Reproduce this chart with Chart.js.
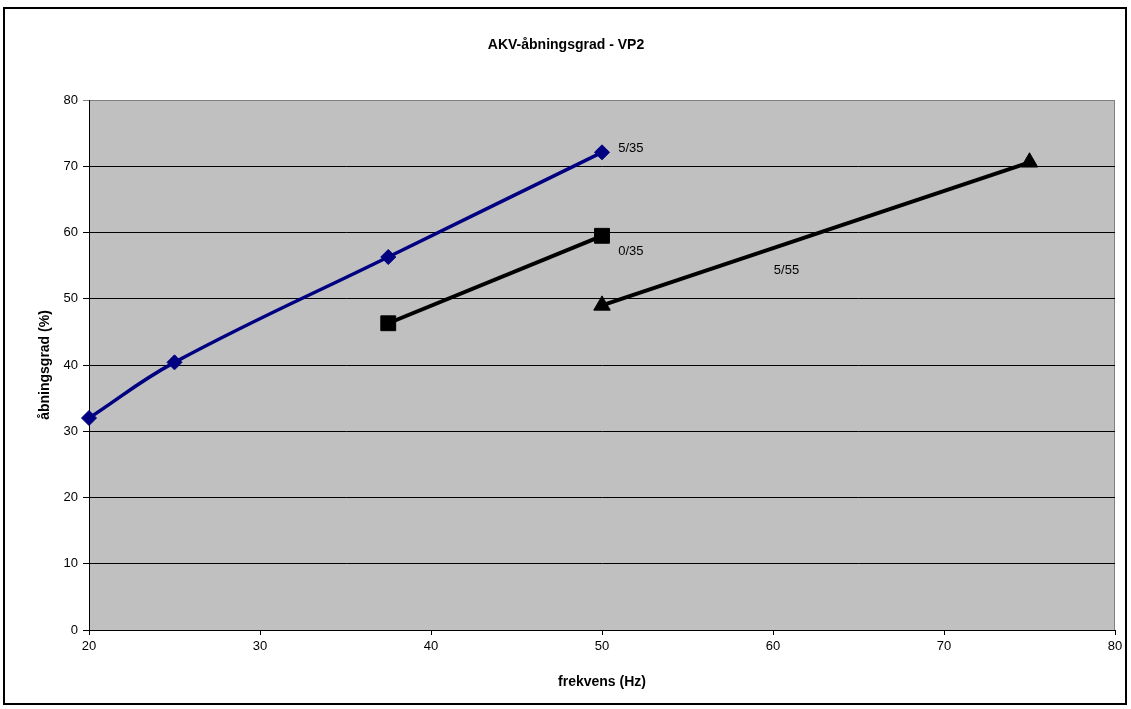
<!DOCTYPE html>
<html>
<head>
<meta charset="utf-8">
<title>AKV-åbningsgrad - VP2</title>
<script src="https://cdn.jsdelivr.net/npm/chart.js@4.4.1/dist/chart.umd.min.js"></script>
<style>
  html, body { margin: 0; padding: 0; background: #ffffff; }
  #wrap { position: relative; width: 1131px; height: 709px; }
</style>
</head>
<body>
<div id="wrap"><canvas id="c" width="1131" height="709"></canvas></div>
<script>
// Frequency (Hz) and valve opening (%) for each operating point
const freq_5_35 = [20, 25, 37.5, 50];
const open_5_35 = [32, 40.4, 56.3, 72.1];

const freq_0_35 = [37.5, 50];
const open_0_35 = [46.3, 59.5];

const freq_5_55 = [50, 75];
const open_5_55 = [49, 70.6];

const seriesNames = ['5/35', '0/35', '5/55'];

const xTicks = [20, 30, 40, 50, 60, 70, 80];
const yTicks = [0, 10, 20, 30, 40, 50, 60, 70, 80];

const FONT = '"Liberation Sans", Arial, sans-serif';

function pts(xs, ys) { return xs.map((x, i) => ({ x: x, y: ys[i] })); }

// Text placement of the series names (in axis units)
const nameAnchors = [
  { x: 50.95, y: 72.7 },
  { x: 50.95, y: 57.2 },
  { x: 60.05, y: 54.3 }
];

const frame = {
  id: 'frame',
  beforeDraw(chart) {
    const { ctx, chartArea: a } = chart;
    ctx.save();
    ctx.fillStyle = '#ffffff';
    ctx.fillRect(0, 0, chart.width, chart.height);
    ctx.fillStyle = '#c0c0c0';
    ctx.fillRect(a.left, a.top, a.right - a.left, a.bottom - a.top);
    ctx.strokeStyle = '#808080';
    ctx.lineWidth = 1;
    ctx.beginPath();
    ctx.moveTo(a.left, a.top + 0.5);
    ctx.lineTo(a.right - 0.5, a.top + 0.5);
    ctx.lineTo(a.right - 0.5, a.bottom);
    ctx.stroke();
    ctx.restore();
  },
  afterDraw(chart) {
    const { ctx, chartArea: a, scales } = chart;
    ctx.save();
    // outer border
    ctx.strokeStyle = '#000000';
    ctx.lineWidth = 2;
    ctx.strokeRect(4, 8, 1122, 696);
    // title
    ctx.fillStyle = '#000000';
    ctx.textAlign = 'center';
    ctx.textBaseline = 'middle';
    ctx.font = 'bold 14px ' + FONT;
    ctx.fillText('AKV-åbningsgrad - VP2', 566, 45);
    // axis titles
    ctx.font = 'bold 14px ' + FONT;
    ctx.fillText('frekvens (Hz)', (a.left + a.right) / 2, 682);
    ctx.save();
    ctx.translate(45, (a.top + a.bottom) / 2);
    ctx.rotate(-Math.PI / 2);
    ctx.fillText('åbningsgrad (%)', 0, 0);
    ctx.restore();
    // series names
    ctx.font = '13px ' + FONT;
    ctx.textAlign = 'left';
    nameAnchors.forEach((p, i) => {
      ctx.fillText(seriesNames[i], scales.x.getPixelForValue(p.x), scales.y.getPixelForValue(p.y));
    });
    ctx.restore();
  }
};

new Chart(document.getElementById('c'), {
  type: 'scatter',
  data: {
    datasets: [
      {
        label: seriesNames[0],
        data: pts(freq_5_35, open_5_35),
        showLine: true,
        clip: false,
        borderColor: '#000080',
        backgroundColor: '#000080',
        borderWidth: 3.5,
        tension: 0.4,
        pointStyle: 'rectRot',
        pointRadius: 7.5,
        pointBorderWidth: 1
      },
      {
        label: seriesNames[1],
        data: pts(freq_0_35, open_0_35),
        showLine: true,
        clip: false,
        borderColor: '#000000',
        backgroundColor: '#000000',
        borderWidth: 4,
        pointStyle: 'rect',
        pointRadius: 10.5,
        pointBorderWidth: 1
      },
      {
        label: seriesNames[2],
        data: pts(freq_5_55, open_5_55),
        showLine: true,
        clip: false,
        borderColor: '#000000',
        backgroundColor: '#000000',
        borderWidth: 4,
        pointStyle: 'triangle',
        pointRadius: 9.5,
        pointBorderWidth: 1
      }
    ]
  },
  options: {
    responsive: false,
    animation: false,
    devicePixelRatio: 1,
    layout: { padding: { left: 0, right: 16, top: 100, bottom: 0 } },
    plugins: {
      legend: { display: false },
      title: { display: false },
      tooltip: { enabled: false }
    },
    scales: {
      x: {
        type: 'linear',
        min: xTicks[0],
        max: xTicks[xTicks.length - 1],
        afterFit(s) { s.height = 79; },
        afterBuildTicks(s) { s.ticks = xTicks.map(v => ({ value: v })); },
        grid: {
          drawOnChartArea: false,
          drawTicks: true,
          tickLength: 5,
          color: '#000000',
          lineWidth: 1
        },
        border: { display: true, color: '#000000', width: 1 },
        ticks: {
          color: '#000000',
          font: { family: FONT, size: 13 },
          padding: 4,
          maxRotation: 0
        }
      },
      y: {
        type: 'linear',
        min: yTicks[0],
        max: yTicks[yTicks.length - 1],
        afterFit(s) { s.width = 89; },
        afterBuildTicks(s) { s.ticks = yTicks.map(v => ({ value: v })); },
        grid: {
          drawTicks: true,
          tickLength: 6,
          color: (c) => (c.tick && c.tick.value === 80) ? '#808080' : '#000000',
          lineWidth: 1
        },
        border: { display: true, color: '#000000', width: 1 },
        ticks: {
          color: '#000000',
          font: { family: FONT, size: 13 },
          padding: 5
        }
      }
    }
  },
  plugins: [frame]
});
</script>
</body>
</html>
